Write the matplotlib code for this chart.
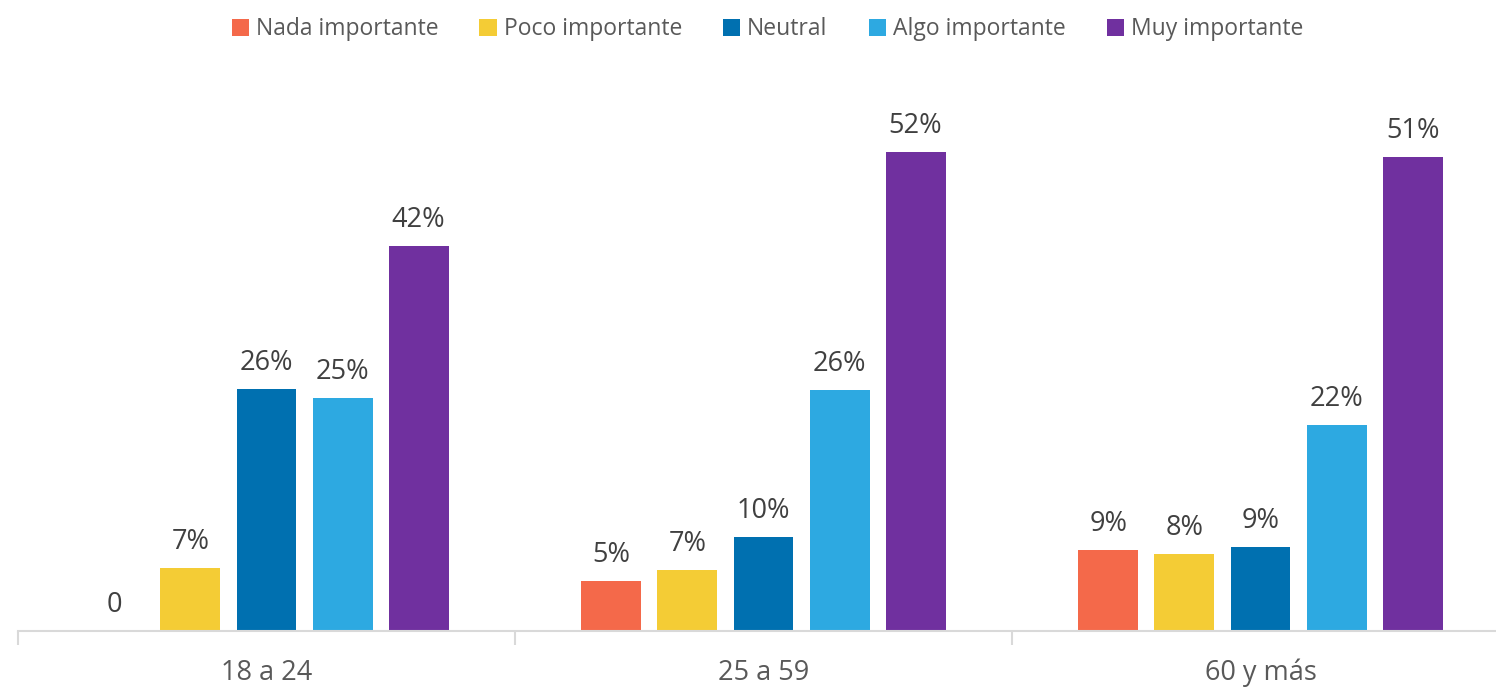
import numpy as np
import matplotlib.pyplot as plt

# datos
grupos = ['18 a 24', '25 a 59', '60 y más']
series = ['Nada importante', 'Poco importante', 'Neutral', 'Algo importante', 'Muy importante']
valores = {
    'Nada importante': [0, 5.4, 8.8],
    'Poco importante': [6.8, 6.6, 8.4],
    'Neutral': [26.3, 10.2, 9.1],
    'Algo importante': [25.3, 26.1, 22.3],
    'Muy importante': [41.8, 52.0, 51.4],
}
colores = ['#F4694A', '#F4CC35', '#0070B0', '#2DA9E1', '#70309F']

plt.rcParams['font.family'] = ['Open Sans', 'DejaVu Sans']

fig = plt.figure(figsize=(14.96, 6.87), dpi=100)
ax = fig.add_axes([18 / 1496, 1 - 631 / 687, 1478 / 1496, (631 - 78) / 687])

x = np.arange(len(grupos))
ancho = 0.1207
paso = 0.153

for i, (serie, color) in enumerate(zip(series, colores)):
    pos = x + (i - 2) * paso
    vals = valores[serie]
    ax.bar(pos, vals, width=ancho, color=color, label=serie)
    for px, v in zip(pos, vals):
        txt = '0' if v == 0 else f'{v:.0f}%'
        ax.text(px, v + 1.3, txt, ha='center', va='bottom', fontsize=19.5, color='#404040')

ax.set_xlim(-0.5, 2.5 - 13 / 497)
ax.set_ylim(0, 60)
ax.set_yticks([])
for s in ['top', 'right', 'left']:
    ax.spines[s].set_visible(False)
ax.spines['bottom'].set_color('#D9D9D9')
ax.spines['bottom'].set_linewidth(1.5)

# etiquetas de categoría y separadores
ax.set_xticks([-0.5, 0.5, 1.5], minor=False)
ax.set_xticklabels([])
ax.tick_params(axis='x', length=10, width=1.5, color='#D9D9D9')
ax.set_xticks(x, minor=True)
ax.set_xticklabels(grupos, minor=True, fontsize=19.5, color='#595959')
ax.tick_params(axis='x', which='minor', length=0, pad=20)

fig.legend(loc='upper center', bbox_to_anchor=(0.513, 1.005), ncol=5, frameon=False,
           fontsize=16.5, handlelength=0.75, handleheight=0.75, handletextpad=0.3,
           columnspacing=1.8, labelcolor='#595959')

plt.savefig('out.png')
